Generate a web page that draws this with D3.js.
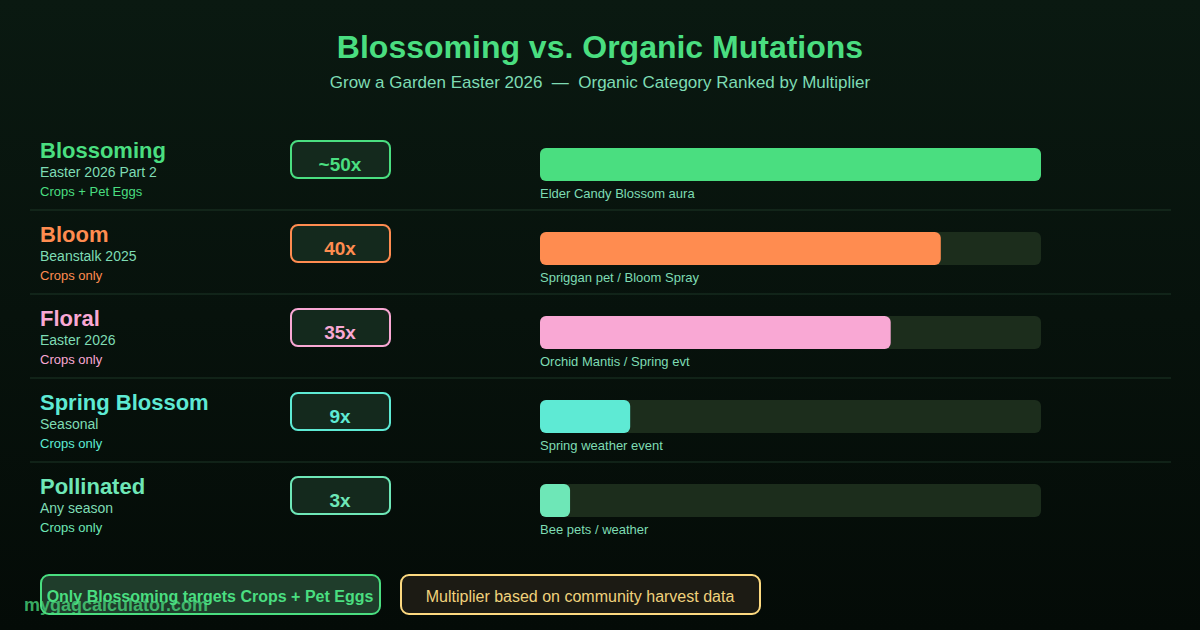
<!DOCTYPE html>
<html lang="en">
    <head>
        <meta charset="utf-8">
        <title>Blossoming vs. Organic Mutations</title>
        <script src="https://d3js.org/d3.v7.min.js"></script>
        <style type="text/css">
            body { margin: 0; background: #06110b; }
            svg { display: block; font-family: "Liberation Sans", Arial, sans-serif; }
            .pre { white-space: pre; }
        </style>
    </head>
    <body>
        <svg width="1200" height="630"></svg>
        <script type="text/javascript">

            // chart data
            const names = ["Blossoming", "Bloom", "Floral", "Spring Blossom", "Pollinated"];
            const multipliers = [50, 40, 35, 9, 3];
            const badgeLabels = ["~50x", "40x", "35x", "9x", "3x"];
            const events = ["Easter 2026 Part 2", "Beanstalk 2025", "Easter 2026", "Seasonal", "Any season"];
            const targets = ["Crops + Pet Eggs", "Crops only", "Crops only", "Crops only", "Crops only"];
            const sources = ["Elder Candy Blossom aura", "Spriggan pet / Bloom Spray", "Orchid Mantis / Spring evt", "Spring weather event", "Bee pets / weather"];
            const colors = ["#4ade80", "#ff8c50", "#f9a8d4", "#5eead4", "#6ee7b7"];

            const svg = d3.select("svg");
            const W = 1200, H = 630;

            const defs = svg.append("defs");
            const grad = defs.append("linearGradient")
                .attr("id", "bg").attr("x1", 0).attr("y1", 0).attr("x2", 0).attr("y2", 1);
            grad.append("stop").attr("offset", "0%").attr("stop-color", "#0a1911");
            grad.append("stop").attr("offset", "100%").attr("stop-color", "#040b07");
            svg.append("rect").attr("width", W).attr("height", H).attr("fill", "url(#bg)");

            // title
            svg.append("text")
                .attr("x", W / 2).attr("y", 58)
                .attr("text-anchor", "middle")
                .attr("font-size", 32).attr("font-weight", "bold")
                .attr("fill", "#4ade80")
                .text("Blossoming vs. Organic Mutations");
            svg.append("text")
                .attr("class", "pre")
                .attr("x", W / 2).attr("y", 88)
                .attr("text-anchor", "middle")
                .attr("font-size", 17)
                .attr("fill", "#7edcb4")
                .text("Grow a Garden Easter 2026  \u2014  Organic Category Ranked by Multiplier");

            // scales
            const y = d3.scaleBand().domain(names).range([126, 546]).padding(0);
            const x = d3.scaleLinear().domain([0, 50]).range([540, 1041]);

            const rows = svg.selectAll("g.row")
                .data(names)
                .enter()
                .append("g")
                .attr("class", "row")
                .attr("transform", d => `translate(0,${y(d)})`);

            // separators (not after the last row)
            rows.filter((d, i) => i < names.length - 1)
                .append("line")
                .attr("x1", 30).attr("x2", 1171)
                .attr("y1", y.bandwidth()).attr("y2", y.bandwidth())
                .attr("stroke", "#1c3626").attr("stroke-width", 1);

            rows.append("text")
                .attr("x", 40).attr("y", 32)
                .attr("font-size", 22).attr("font-weight", "bold")
                .attr("fill", (d, i) => colors[i])
                .text(d => d);
            rows.append("text")
                .attr("x", 40).attr("y", 51)
                .attr("font-size", 14)
                .attr("fill", "#7edcb4")
                .text((d, i) => events[i]);
            rows.append("text")
                .attr("x", 40).attr("y", 70)
                .attr("font-size", 13)
                .attr("fill", (d, i) => colors[i])
                .text((d, i) => targets[i]);

            // badge
            rows.append("rect")
                .attr("x", 291).attr("y", 15)
                .attr("width", 99).attr("height", 37)
                .attr("rx", 7)
                .attr("fill", "#14291d")
                .attr("stroke", (d, i) => colors[i])
                .attr("stroke-width", 2);
            rows.append("text")
                .attr("x", 340).attr("y", 45)
                .attr("text-anchor", "middle")
                .attr("font-size", 19).attr("font-weight", "bold")
                .attr("fill", (d, i) => colors[i])
                .text((d, i) => badgeLabels[i]);

            // bar track + bar
            rows.append("rect")
                .attr("x", x(0)).attr("y", 22)
                .attr("width", x(50) - x(0)).attr("height", 33)
                .attr("rx", 6)
                .attr("fill", "#1c2d1c");
            rows.append("rect")
                .attr("x", x(0)).attr("y", 22)
                .attr("width", (d, i) => x(multipliers[i]) - x(0)).attr("height", 33)
                .attr("rx", 6)
                .attr("fill", (d, i) => colors[i]);
            rows.append("text")
                .attr("x", 540).attr("y", 72)
                .attr("font-size", 13)
                .attr("fill", "#7edcb4")
                .text((d, i) => sources[i]);

            // footer notes
            svg.append("rect")
                .attr("x", 41).attr("y", 575).attr("width", 339).attr("height", 39)
                .attr("rx", 8)
                .attr("fill", "#1f3d2b").attr("stroke", "#4ade80").attr("stroke-width", 2);
            svg.append("text")
                .attr("x", 210).attr("y", 602)
                .attr("text-anchor", "middle")
                .attr("font-size", 16).attr("font-weight", "bold")
                .attr("fill", "#4ade80")
                .text("Only Blossoming targets Crops + Pet Eggs");

            svg.append("rect")
                .attr("x", 401).attr("y", 575).attr("width", 359).attr("height", 39)
                .attr("rx", 8)
                .attr("fill", "#1c1b14").attr("stroke", "#fcd980").attr("stroke-width", 2);
            svg.append("text")
                .attr("x", 580).attr("y", 602)
                .attr("text-anchor", "middle")
                .attr("font-size", 16)
                .attr("fill", "#f0d27c")
                .text("Multiplier based on community harvest data");

            // watermark
            svg.append("text")
                .attr("x", 24).attr("y", 611)
                .attr("font-size", 18).attr("font-weight", "bold")
                .attr("fill", "#4ade80").attr("fill-opacity", 0.75)
                .text("mygagcalculator.com");

        </script>
    </body>
</html>
